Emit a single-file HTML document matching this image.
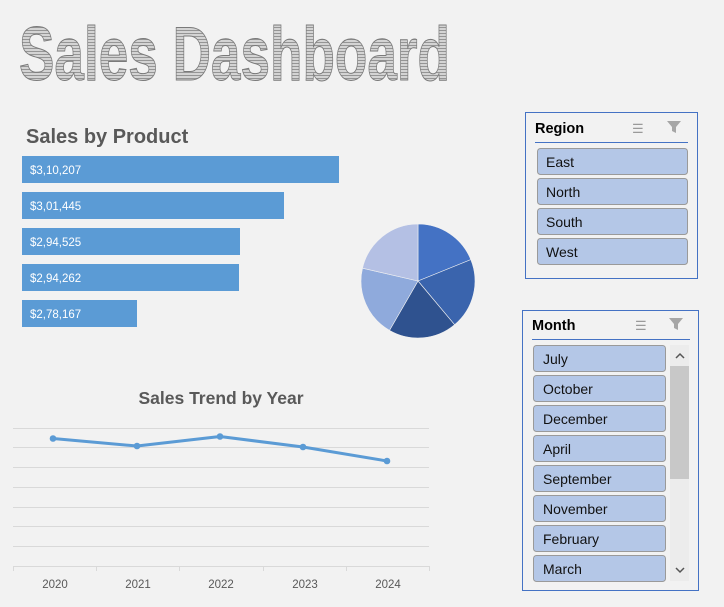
<!DOCTYPE html>
<html><head><meta charset="utf-8"><style>
html,body{margin:0;padding:0;background:#f2f2f2;}
svg{display:block;font-family:"Liberation Sans",sans-serif;}
</style></head><body>
<svg width="724" height="607" viewBox="0 0 724 607" xmlns="http://www.w3.org/2000/svg">
<defs>
<pattern id="st" width="4" height="3" patternUnits="userSpaceOnUse">
<rect width="4" height="3" fill="#d4d4d4"/><rect width="4" height="1" fill="#959595"/>
</pattern>
</defs>
<rect width="724" height="607" fill="#f2f2f2"/>
<text x="19" y="80" font-size="76" font-weight="bold" textLength="431" lengthAdjust="spacingAndGlyphs" fill="url(#st)" stroke="#7a7a7a" stroke-width="1">Sales Dashboard</text>

<text x="26" y="143" font-size="20" font-weight="bold" fill="#595959">Sales by Product</text>
<g fill="#5b9bd5">
<rect x="22" y="156" width="317" height="27"/>
<rect x="22" y="192" width="262" height="27"/>
<rect x="22" y="228" width="218" height="27"/>
<rect x="22" y="264" width="217" height="27"/>
<rect x="22" y="300" width="115" height="27"/>
</g>
<g fill="#fff" font-size="11.5">
<text x="30" y="174">$3,10,207</text>
<text x="30" y="210">$3,01,445</text>
<text x="30" y="246">$2,94,525</text>
<text x="30" y="282">$2,94,262</text>
<text x="30" y="318">$2,78,167</text>
</g>

<g stroke="#f2f2f2" stroke-width="0.6">
<path d="M418,281 L418,224 A57,57 0 0 1 470.8,259.6 Z" fill="#4472c4"/>
<path d="M418,281 L470.8,259.6 A57,57 0 0 1 454.6,324.7 Z" fill="#3a64ad"/>
<path d="M418,281 L454.6,324.7 A57,57 0 0 1 389.5,330.4 Z" fill="#2f528f"/>
<path d="M418,281 L389.5,330.4 A57,57 0 0 1 362.5,268.2 Z" fill="#8faadc"/>
<path d="M418,281 L362.5,268.2 A57,57 0 0 1 418,224 Z" fill="#b4c0e4"/>
</g>

<text x="221" y="404" font-size="17.5" font-weight="bold" fill="#595959" text-anchor="middle">Sales Trend by Year</text>
<g stroke="#d9d9d9" stroke-width="1">
<line x1="13" y1="428.5" x2="429" y2="428.5"/>
<line x1="13" y1="447.5" x2="429" y2="447.5"/>
<line x1="13" y1="467.5" x2="429" y2="467.5"/>
<line x1="13" y1="487.5" x2="429" y2="487.5"/>
<line x1="13" y1="507.5" x2="429" y2="507.5"/>
<line x1="13" y1="526.5" x2="429" y2="526.5"/>
<line x1="13" y1="546.5" x2="429" y2="546.5"/>
<line x1="13" y1="566.5" x2="429" y2="566.5"/>
<line x1="13.5" y1="566" x2="13.5" y2="571"/>
<line x1="96.5" y1="566" x2="96.5" y2="571"/>
<line x1="179.5" y1="566" x2="179.5" y2="571"/>
<line x1="263.5" y1="566" x2="263.5" y2="571"/>
<line x1="346.5" y1="566" x2="346.5" y2="571"/>
<line x1="429.5" y1="566" x2="429.5" y2="571"/>
</g>
<polyline points="53,438.5 137,446 220,436.5 303,447 387,461" fill="none" stroke="#5b9bd5" stroke-width="3" stroke-linejoin="round"/>
<g fill="#5b9bd5">
<circle cx="53" cy="438.5" r="3.3"/><circle cx="137" cy="446" r="3.3"/><circle cx="220" cy="436.5" r="3.3"/><circle cx="303" cy="447" r="3.3"/><circle cx="387" cy="461" r="3.3"/>
</g>
<g font-size="11.5" fill="#595959" text-anchor="middle">
<text x="55" y="588">2020</text><text x="138" y="588">2021</text><text x="221" y="588">2022</text><text x="305" y="588">2023</text><text x="388" y="588">2024</text>
</g>

<!-- Region slicer -->
<rect x="525.5" y="112.5" width="172" height="166" fill="#f2f2f2" stroke="#4472c4" stroke-width="1"/>
<text x="535" y="133" font-size="14.5" font-weight="bold" fill="#000">Region</text>
<line x1="535" y1="142.5" x2="688" y2="142.5" stroke="#4472c4" stroke-width="1"/>
<g fill="#9a9a9a" font-size="13"><text x="632" y="133">☰</text></g>
<path d="M667,121 L681,121 L676,127 L676,133 L672,131 L672,127 Z" fill="#a6a6a6"/>
<g fill="#b4c7e7" stroke="#9a9a9a" stroke-width="1">
<rect x="537.5" y="148.5" width="150" height="26" rx="3"/>
<rect x="537.5" y="178.5" width="150" height="26" rx="3"/>
<rect x="537.5" y="208.5" width="150" height="26" rx="3"/>
<rect x="537.5" y="238.5" width="150" height="26" rx="3"/>
</g>
<g font-size="14" fill="#111">
<text x="546" y="167">East</text><text x="546" y="197">North</text><text x="546" y="227">South</text><text x="546" y="257">West</text>
</g>

<!-- Month slicer -->
<rect x="522.5" y="310.5" width="176" height="280" fill="#f2f2f2" stroke="#4472c4" stroke-width="1"/>
<text x="532" y="330" font-size="14.5" font-weight="bold" fill="#000">Month</text>
<line x1="532" y1="339.5" x2="690" y2="339.5" stroke="#4472c4" stroke-width="1"/>
<g fill="#9a9a9a" font-size="13"><text x="635" y="330">☰</text></g>
<path d="M669,318 L683,318 L678,324 L678,330 L674,328 L674,324 Z" fill="#a6a6a6"/>
<rect x="670" y="345" width="19" height="236" fill="#ececec"/>
<rect x="670" y="366" width="19" height="113" fill="#c8c8c8"/>
<path d="M676,358 L680,354 L684,358" fill="none" stroke="#555" stroke-width="1.5"/>
<path d="M676,568 L680,572 L684,568" fill="none" stroke="#555" stroke-width="1.5"/>
<g fill="#b4c7e7" stroke="#9a9a9a" stroke-width="1">
<rect x="533.5" y="345.5" width="132" height="26" rx="3"/>
<rect x="533.5" y="375.5" width="132" height="26" rx="3"/>
<rect x="533.5" y="405.5" width="132" height="26" rx="3"/>
<rect x="533.5" y="435.5" width="132" height="26" rx="3"/>
<rect x="533.5" y="465.5" width="132" height="26" rx="3"/>
<rect x="533.5" y="495.5" width="132" height="26" rx="3"/>
<rect x="533.5" y="525.5" width="132" height="26" rx="3"/>
<rect x="533.5" y="555.5" width="132" height="26" rx="3"/>
</g>
<rect x="533" y="582" width="134" height="8" fill="#f2f2f2"/>
<g font-size="14" fill="#111">
<text x="543" y="364">July</text><text x="543" y="394">October</text><text x="543" y="424">December</text><text x="543" y="454">April</text>
<text x="543" y="484">September</text><text x="543" y="514">November</text><text x="543" y="544">February</text><text x="543" y="574">March</text>
</g>
</svg>
</body></html>
